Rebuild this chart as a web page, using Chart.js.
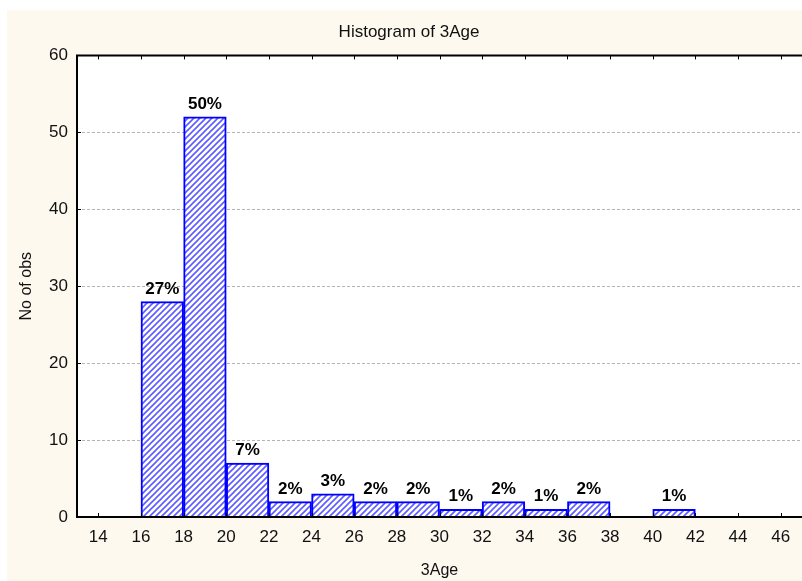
<!DOCTYPE html>
<html>
<head>
<meta charset="utf-8">
<script src="https://cdn.jsdelivr.net/npm/chart.js@4"></script>
<style>
  html, body { margin: 0; padding: 0; background: #fff; }
  #wrap { width: 802px; height: 581px; }
</style>
</head>
<body>
<div id="wrap"><canvas id="ageHist"></canvas></div>
<script>
const binStart = [16, 18, 20, 22, 24, 26, 28, 30, 32, 34, 36, 38, 40];
const counts = [28, 52, 7, 2, 3, 2, 2, 1, 2, 1, 2, 0, 1];
const xTicks = [14, 16, 18, 20, 22, 24, 26, 28, 30, 32, 34, 36, 38, 40, 42, 44, 46];
const yTicks = [0, 10, 20, 30, 40, 50, 60];

const total = counts.reduce((a, b) => a + b, 0);
const font = 'Liberation Sans, Arial, sans-serif';

// diagonal hatch fill like the original
function hatch() {
    const c = document.createElement('canvas');
    c.width = 6; c.height = 6;
    const g = c.getContext('2d');
    g.fillStyle = '#ffffff';
    g.fillRect(0, 0, 6, 6);
    g.strokeStyle = '#5c5cff';
    g.lineWidth = 1.6;
    g.beginPath();
    g.moveTo(-1, 7); g.lineTo(7, -1);
    g.moveTo(-4, 4); g.lineTo(4, -4);
    g.moveTo(2, 10); g.lineTo(10, 2);
    g.stroke();
    return g.createPattern(c, 'repeat');
}

const frame = {
    id: 'frame',
    beforeDraw(chart) {
        const {ctx, chartArea: a} = chart;
        ctx.save();
        ctx.fillStyle = '#ffffff';
        ctx.fillRect(0, 0, chart.width, chart.height);
        ctx.fillStyle = '#fdf9ef';
        ctx.fillRect(7, 10, chart.width - 7, chart.height - 10);
        ctx.fillStyle = '#ffffff';
        ctx.fillRect(a.left, a.top, a.right - a.left, a.bottom - a.top);
        ctx.restore();
    },
    afterDatasetsDraw(chart) {
        const {ctx, chartArea: a, scales: {x, y}} = chart;
        ctx.save();
        ctx.strokeStyle = '#000';
        ctx.lineWidth = 2;
        ctx.beginPath();
        ctx.moveTo(a.left, a.top); ctx.lineTo(a.right, a.top);
        ctx.moveTo(a.left, a.top - 1); ctx.lineTo(a.left, a.bottom + 1);
        ctx.moveTo(a.left - 1, a.bottom); ctx.lineTo(a.right, a.bottom);
        ctx.stroke();
        ctx.lineWidth = 1;
        ctx.beginPath();
        xTicks.forEach(v => {
            const px = Math.round(x.getPixelForValue(v)) + 0.5;
            ctx.moveTo(px, a.bottom); ctx.lineTo(px, a.bottom - 4);
            ctx.moveTo(px, a.top); ctx.lineTo(px, a.top + 4);
        });
        yTicks.forEach(v => {
            const py = Math.round(y.getPixelForValue(v)) + 0.5;
            ctx.moveTo(a.left, py); ctx.lineTo(a.left + 4, py);
        });
        ctx.stroke();

        // percent labels
        const meta = chart.getDatasetMeta(0);
        ctx.fillStyle = '#000';
        ctx.font = 'bold 17px ' + font;
        ctx.textAlign = 'center';
        ctx.textBaseline = 'bottom';
        meta.data.forEach((bar, i) => {
            if (!counts[i]) return;
            const pct = Math.round(counts[i] / total * 100) + '%';
            ctx.fillText(pct, bar.x, bar.y - 4);
        });
        ctx.restore();
    }
};

new Chart(document.getElementById('ageHist'), {
    type: 'bar',
    data: {
        datasets: [{
            label: 'No of obs',
            data: binStart.map((s, i) => ({x: s + 1, y: counts[i]})),
            backgroundColor: hatch(),
            borderColor: '#0000ff',
            borderWidth: 2,
            borderSkipped: 'bottom',
            barPercentage: 1,
            categoryPercentage: 1,
        }]
    },
    options: {
        responsive: true,
        maintainAspectRatio: false,
        animation: false,
        layout: { padding: { left: 13, right: -3, top: 0, bottom: 0 } },
        plugins: {
            legend: { display: false },
            tooltip: { enabled: false },
            title: {
                display: true,
                text: 'Histogram of 3Age',
                color: '#111',
                font: { family: font, size: 17, weight: 'normal' },
                padding: { top: 22, bottom: 13 }
            }
        },
        scales: {
            x: {
                type: 'linear',
                offset: false,
                min: 13,
                max: 47,
                afterBuildTicks: s => { s.ticks = xTicks.map(v => ({value: v})); },
                afterFit: s => { s.height = 64; },
                grid: { display: false, drawTicks: false },
                border: { display: false },
                ticks: {
                    color: '#111',
                    padding: 10,
                    maxRotation: 0,
                    autoSkip: false,
                    font: { family: font, size: 17 }
                },
                title: {
                    display: true,
                    text: '3Age',
                    color: '#111',
                    padding: { top: 4, bottom: 1 },
                    font: { family: font, size: 16 }
                }
            },
            y: {
                min: 0,
                max: 60,
                afterBuildTicks: s => { s.ticks = yTicks.map(v => ({value: v})); },
                afterFit: s => { s.width = 64; },
                grid: {
                    drawTicks: false,
                    color: c => (c.tick && (c.tick.value === 0 || c.tick.value === 60)) ? 'rgba(0,0,0,0)' : '#b4b4b4',
                    lineWidth: 1
                },
                border: { display: false, dash: [3, 2] },
                ticks: {
                    color: '#111',
                    padding: 9,
                    font: { family: font, size: 17 }
                },
                title: {
                    display: true,
                    text: 'No of obs',
                    color: '#111',
                    font: { family: font, size: 16 }
                }
            }
        }
    },
    plugins: [frame]
});
</script>
</body>
</html>
